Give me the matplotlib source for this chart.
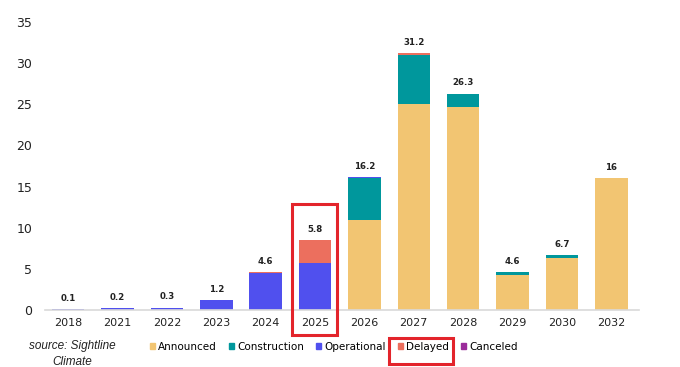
import matplotlib
matplotlib.use("Agg")
import matplotlib.pyplot as plt
from matplotlib.patches import Patch, Rectangle
import numpy as np

years = ["2018", "2021", "2022", "2023", "2024", "2025", "2026", "2027", "2028", "2029", "2030", "2032"]
announced    = [0, 0, 0, 0, 0, 0, 10.9, 25.0, 24.7, 4.3, 6.3, 16.0]
construction = [0, 0, 0, 0, 0, 0, 5.1, 6.0, 1.6, 0.3, 0.4, 0]
operational  = [0.1, 0.2, 0.3, 1.2, 4.5, 5.7, 0.2, 0, 0, 0, 0, 0]
delayed      = [0, 0, 0, 0, 0.1, 2.8, 0, 0.2, 0, 0, 0, 0]
canceled     = [0, 0, 0, 0, 0, 0, 0, 0, 0, 0, 0, 0]
labels       = ["0.1", "0.2", "0.3", "1.2", "4.6", "5.8", "16.2", "31.2", "26.3", "4.6", "6.7", "16"]

series = [("Announced", announced, "#F2C572"),
          ("Construction", construction, "#00979C"),
          ("Operational", operational, "#5050EE"),
          ("Delayed", delayed, "#EC6F5E"),
          ("Canceled", canceled, "#9B2C9B")]

fig = plt.figure(figsize=(6.8, 3.67), dpi=100)
ax = fig.add_axes([0.066, 0.155, 0.873, 0.785])

x = np.arange(len(years))
bottom = np.zeros(len(years))
for name, vals, col in series:
    v = np.array(vals, dtype=float)
    ax.bar(x, v, bottom=bottom, width=0.66, color=col, label=name, zorder=2)
    bottom += v

for xi, tot, lab in zip(x, bottom, labels):
    ax.text(xi, tot + 0.75, lab, ha="center", va="bottom", fontsize=6.2, fontweight="bold", color="#222222")

ax.set_xlim(-0.47, 11.55)
ax.set_ylim(0, 35)
ax.set_yticks(range(0, 36, 5))
ax.set_xticks(x)
ax.set_xticklabels(years)
ax.tick_params(axis="both", length=0, colors="#222222")
ax.tick_params(axis="y", pad=9, labelsize=9)
ax.tick_params(axis="x", pad=6, labelsize=8)
for s in ["top", "right", "left"]:
    ax.spines[s].set_visible(False)
ax.spines["bottom"].set_color("#d9d9d9")
ax.spines["bottom"].set_linewidth(1.2)

handles = [Patch(color=c, label=n) for n, _, c in series]
fig.legend(handles=handles, loc="center", bbox_to_anchor=(0.491, 0.0545), ncol=5,
           frameon=False, fontsize=7.5, handlelength=0.45, handleheight=0.45,
           handletextpad=0.3, columnspacing=1.2, borderpad=0)

fig.text(29/680, 1 - 346/367, "source: Sightline", fontsize=8.5, style="italic",
         family="Liberation Sans", ha="left", va="center", color="#222222")
fig.text(52/680, 1 - 362/367, "Climate", fontsize=8.5, style="italic",
         family="Liberation Sans", ha="left", va="center", color="#222222")

red = "#E3242B"
# box around 2025 bar
fig.add_artist(Rectangle((292/680, 1 - 335/367), 45/680, 131/367, transform=fig.transFigure,
                         fill=False, edgecolor=red, linewidth=2.2))
# box around Delayed legend entry
fig.add_artist(Rectangle((389/680, 1 - 364/367), 64/680, 26/367, transform=fig.transFigure,
                         fill=False, edgecolor=red, linewidth=2.2))

fig.savefig("out.png", dpi=100)
